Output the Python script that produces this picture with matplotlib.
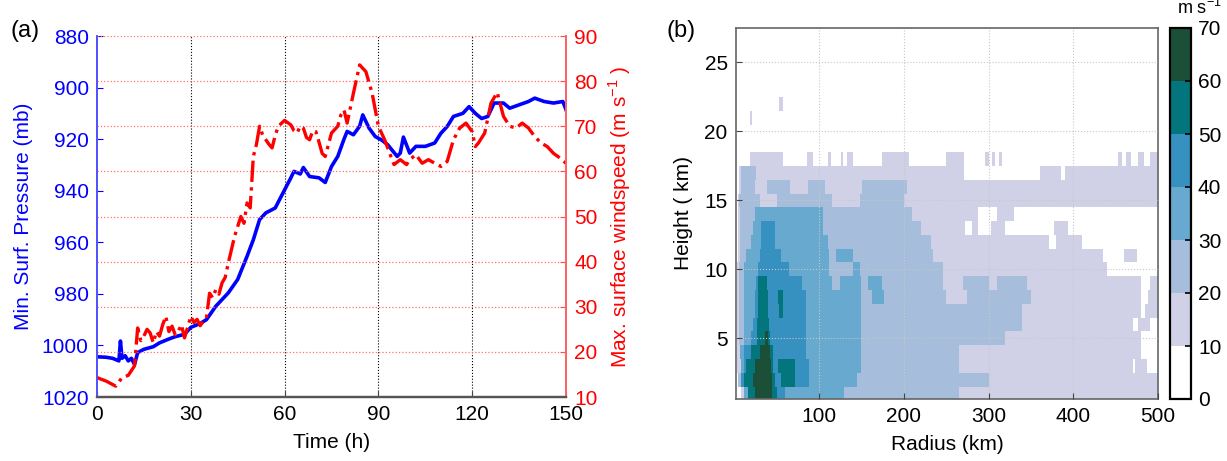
import numpy as np
import matplotlib
matplotlib.use('Agg')
import matplotlib.pyplot as plt
from matplotlib.colors import ListedColormap, BoundaryNorm

plt.rcParams['font.family'] = ['Liberation Sans', 'DejaVu Sans']
plt.rcParams['mathtext.fontset'] = 'custom'
plt.rcParams['mathtext.rm'] = 'Liberation Sans'
plt.rcParams['font.size'] = 15

# ---- (a) time series
t_p = [0, 3, 5, 7, 7.5, 8, 9, 10, 11, 12, 13, 15, 18, 20, 23, 25, 28, 30, 33, 35,
       38, 42, 45, 48, 50, 52, 54, 57, 59, 62, 63, 65, 66, 68, 71, 73, 75, 77, 79,
       80, 82, 84, 85, 87, 89, 91, 93, 96, 97, 98, 100, 102, 105, 108, 110, 112,
       114, 117, 119, 121, 123, 125, 127, 130, 132, 135, 138, 140, 143, 146, 149, 150]
p_min = [1004.4, 1004.6, 1005, 1006, 998.3, 1005, 1004, 1006, 1005, 1007.4, 1002.8,
         1001.5, 1000.5, 999, 997.5, 996.6, 995.7, 993, 991.5, 990,
         984.8, 979.6, 974.4, 965.4, 959, 951.2, 948.6, 946.7, 942, 935, 932.5, 933.5,
         931, 934.5, 935, 936.8, 930.6, 926.7, 920,
         917, 918.3, 915, 910.6, 915.7, 919, 920.3, 922.2, 926.7, 925.4, 919.2, 925.4,
         922.8, 922.8, 921.5, 917.7, 915.1,
         911.2, 910, 907.4, 910, 912, 911.2, 906, 906, 908, 906.7, 905.4, 904.1,
         905.4, 906, 905.4, 908.6]

t_w = [0, 3, 6, 8, 10, 12, 13, 14, 15, 16, 17, 18, 19, 20, 21, 22, 23, 24, 25, 26,
       27, 28, 29, 30, 31, 32, 33, 34, 35, 36, 37, 38, 39, 40, 41, 42, 44, 46, 47,
       48, 49, 50, 51, 52, 53, 54, 55, 56, 57, 58, 60, 62, 63, 64, 65, 66, 67, 68,
       69, 70, 71, 72, 73, 75, 77, 78, 79, 80, 81, 82, 84, 86, 88, 90, 92, 94, 95,
       97, 99, 100, 102, 104, 106, 108, 110, 112, 114, 116, 118, 120, 121, 122,
       124, 126, 128, 130, 132, 134, 136, 138, 140, 142, 144, 146, 148, 150]
w_max = [14.3, 13.5, 12.4, 14.3, 14.8, 16.9, 25.3, 22.5, 23.5, 25, 24.2, 22, 24.5,
         23.5, 26, 27.9, 24.5, 25.7, 23.8, 24.6, 26, 23.1, 25.5, 27.9, 26.5, 27.2,
         25.8, 26.8, 27.5, 33, 32, 33.8, 32.8, 35.3, 36.5, 39.7, 45.6, 50, 48.5,
         53, 51.9, 63.3, 66, 70, 68, 67, 66, 65.2, 68, 70, 71.3, 70.3, 69, 68.5, 70,
         69.6, 67.5, 67, 69, 68.8, 66.5, 64, 63.3, 68.5, 70, 72.5, 73.6, 70.7, 74,
         77.3, 83.6, 82.1, 77.3, 70, 67, 63.3, 61.5, 62.6, 61.5, 62.6, 63.7, 61.8,
         62.6, 61.8, 61.1, 62.2, 67, 69.6, 70.7, 68.8, 65.5, 66.3, 68.5, 75.1, 77.5,
         72.2, 70, 69.6, 70.7, 69.6, 67.7, 66.3, 65.5, 64, 63, 61.8]

# ---- (b) wind speed class per height row (1 km rows, top row first)
# each row: list of (radius end in km, class); class k means 10k..10k+10 m/s
heights = list(range(27, 0, -1))
wind_rows = [
    [(500, 0)],
    [(500, 0)],
    [(500, 0)],
    [(500, 0)],
    [(500, 0)],
    [(53, 0), (58, 1), (500, 0)],
    [(18, 0), (21, 1), (500, 0)],
    [(500, 0)],
    [(500, 0)],
    [(18, 0), (57, 1), (86, 0), (93, 1), (111, 0), (114, 1), (126, 0), (128, 1),
     (133, 0), (140, 1), (174, 0), (206, 1), (250, 0), (271, 1), (296, 0), (300, 1),
     (304, 0), (308, 1), (312, 0), (316, 1), (453, 0), (458, 1), (462, 0), (468, 1),
     (476, 0), (484, 1), (490, 0), (500, 1)],
    [(6, 0), (8, 1), (26, 2), (271, 1), (361, 0), (385, 1), (390, 0), (500, 1)],
    [(5, 0), (8, 1), (24, 2), (38, 1), (66, 2), (87, 1), (107, 2), (151, 1), (204, 2), (500, 1)],
    [(4, 0), (6, 1), (30, 2), (50, 1), (115, 2), (148, 1), (200, 2), (500, 1)],
    [(4, 0), (7, 1), (25, 2), (105, 3), (210, 2), (288, 1), (310, 0), (330, 1), (347, 0), (500, 0)],
    [(4, 0), (7, 1), (22, 2), (32, 3), (48, 4), (105, 3), (220, 2), (272, 1), (280, 0),
     (288, 1), (303, 0), (320, 1), (377, 0), (394, 1), (500, 0)],
    [(4, 0), (7, 1), (20, 2), (32, 3), (48, 4), (110, 3), (232, 2), (371, 1), (380, 0),
     (410, 1), (500, 0)],
    [(4, 0), (7, 1), (14, 2), (30, 3), (55, 4), (112, 3), (120, 2), (140, 3), (235, 2),
     (435, 1), (460, 0), (475, 1), (500, 0)],
    [(3, 0), (6, 1), (12, 2), (28, 3), (65, 4), (112, 3), (140, 2), (148, 3), (246, 2),
     (440, 1), (500, 0)],
    [(3, 0), (6, 1), (12, 2), (26, 3), (28, 4), (38, 5), (80, 4), (115, 3), (125, 2),
     (150, 3), (158, 2), (174, 3), (246, 2), (270, 1), (300, 2), (310, 1), (345, 2),
     (480, 1), (490, 0), (500, 1)],
    [(3, 0), (6, 1), (12, 2), (25, 3), (28, 4), (40, 5), (52, 4), (58, 5), (85, 4),
     (150, 3), (163, 2), (177, 3), (250, 2), (275, 1), (350, 2), (480, 1), (488, 0), (500, 1)],
    [(3, 0), (6, 1), (12, 2), (24, 3), (28, 4), (40, 5), (53, 4), (58, 5), (85, 4),
     (150, 3), (340, 2), (480, 1), (485, 0), (500, 1)],
    [(3, 0), (6, 1), (12, 2), (22, 3), (27, 4), (41, 5), (85, 4), (150, 3), (340, 2),
     (470, 1), (476, 0), (490, 1), (500, 0)],
    [(3, 0), (6, 1), (12, 2), (20, 3), (27, 4), (36, 5), (40, 6), (42, 5), (85, 4),
     (150, 3), (320, 2), (480, 1), (500, 0)],
    [(3, 0), (7, 1), (12, 3), (20, 4), (30, 5), (42, 6), (46, 5), (85, 4), (150, 3),
     (265, 2), (480, 1), (500, 0)],
    [(3, 0), (8, 1), (12, 3), (14, 4), (25, 5), (43, 6), (46, 5), (52, 4), (72, 5),
     (88, 4), (150, 3), (265, 2), (470, 1), (473, 0), (487, 1), (500, 0)],
    [(4, 0), (8, 2), (12, 4), (22, 5), (44, 6), (48, 5), (55, 4), (72, 5), (88, 4),
     (145, 3), (300, 2), (500, 1)],
    [(8, 0), (12, 1), (16, 3), (24, 5), (44, 6), (50, 5), (60, 4), (130, 3), (265, 2), (500, 1)],
]

speed_levels = [0, 10, 20, 30, 40, 50, 60, 70]
class_colors = ['#ffffff', '#d0d1e6', '#a6bddb', '#67a9cf', '#3690c0', '#02767c', '#1b4f38']

r_edges = np.arange(0, 501, 1)
h_edges = np.arange(0.5, 28, 1)
spd = np.zeros((len(heights), 500))
for i, row in enumerate(wind_rows):
    start = 0
    for end, k in row:
        spd[i, start:end] = 10 * k + 5
        start = end
spd = spd[::-1]  # bottom row first

fig = plt.figure(figsize=(12.27, 4.61), dpi=100)

# ---------------- panel (a)
ax1 = fig.add_axes([97 / 1227, 1 - 397 / 461, 469 / 1227, 361 / 461])
ax2 = ax1.twinx()

for x in [30, 60, 90, 120]:
    ax1.axvline(x, color='k', ls=':', lw=0.8, zorder=0)
for y in range(20, 91, 10):
    ax2.axhline(y, color='#ff7070', ls=':', lw=0.9, zorder=0)

ax1.plot(t_p, p_min, color='#0000ff', lw=2.6)
ax2.plot(t_w, w_max, color='#ff0000', lw=2.4, ls='-.')

ax1.set_xlim(0, 150)
ax1.set_ylim(1020, 880)
ax1.set_xticks(range(0, 151, 30))
ax1.set_yticks(range(880, 1021, 20))
ax2.set_ylim(10, 90)
ax2.set_yticks(range(10, 91, 10))

ax1.tick_params(axis='y', colors='#0000ff', direction='in', length=4, pad=6)
ax1.tick_params(axis='x', colors='#444444', labelcolor='k', direction='in', length=4, pad=6)
ax2.tick_params(axis='y', colors='#ff5050', labelcolor='#ff0000', direction='in', length=4, pad=6)

for a in (ax1, ax2):
    a.spines['top'].set_visible(False)
    a.spines['left'].set_color('#5050ff')
    a.spines['right'].set_color('#ff6060')
    a.spines['bottom'].set_color('#555555')
    a.spines['bottom'].set_linewidth(1.6)
    a.spines['left'].set_linewidth(1.2)
    a.spines['right'].set_linewidth(1.2)

ax1.set_xlabel('Time (h)', labelpad=6)
ax1.set_ylabel('Min. Surf. Pressure (mb)', color='#0000ff', labelpad=6)
ax2.set_ylabel('Max. surface windspeed (m s$^{-1}$ )', color='#ff0000', labelpad=6)

fig.text(10 / 1227, 1 - 37 / 461, '(a)', fontsize=17)
fig.text(667 / 1227, 1 - 37 / 461, '(b)', fontsize=17)

# ---------------- panel (b)
axb = fig.add_axes([736 / 1227, 1 - 399 / 461, 422 / 1227, 371 / 461])
cmap = ListedColormap(class_colors)
norm = BoundaryNorm(speed_levels, cmap.N)
mesh = axb.pcolormesh(r_edges, h_edges, spd, cmap=cmap, norm=norm, shading='flat')
axb.set_xlim(2, 500)
axb.set_ylim(0.6, 27.5)
axb.set_xticks(range(100, 501, 100))
axb.set_yticks(range(5, 26, 5))
axb.grid(True, color='#c8c8c8', ls=':', lw=0.8)
axb.set_axisbelow(False)
axb.tick_params(direction='in', length=4, pad=6, colors='#444444', labelcolor='k')
for s in axb.spines.values():
    s.set_color('#666666')
    s.set_linewidth(1.2)
axb.set_xlabel('Radius (km)', labelpad=6)
axb.set_ylabel('Height ( km)', labelpad=8)

cax = fig.add_axes([1170 / 1227, 1 - 399 / 461, 21 / 1227, 371 / 461])
cb = fig.colorbar(mesh, cax=cax, ticks=speed_levels)
cb.outline.set_linewidth(1.6)
cb.outline.set_edgecolor('k')
cax.tick_params(direction='in', length=4, width=1.2, pad=5)
fig.text(1222 / 1227, 1 - 14 / 461, 'm s$^{-1}$', fontsize=13, ha='right')

fig.savefig('out.png', dpi=100)
